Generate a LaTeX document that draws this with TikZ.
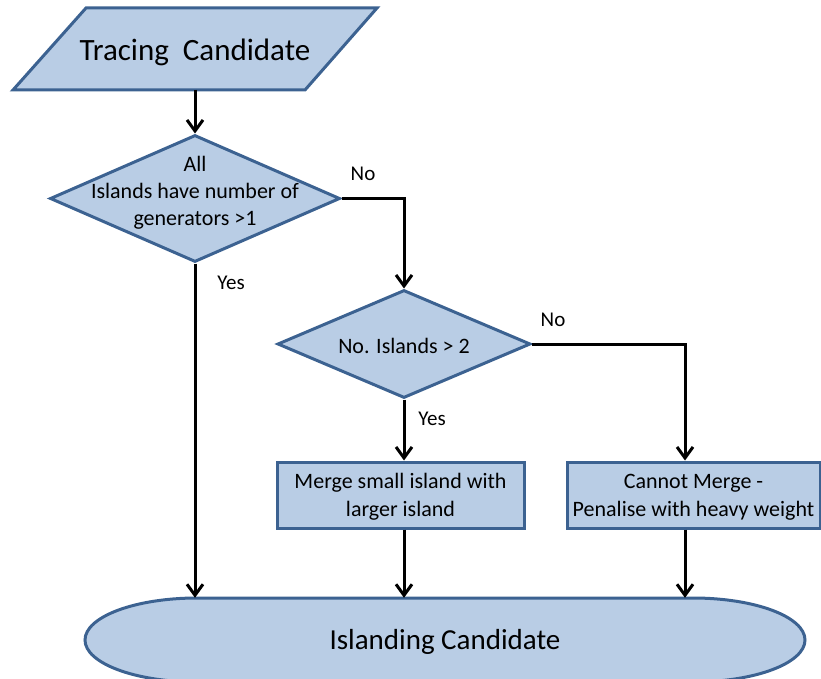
\documentclass[tikz,border=0pt]{standalone}
\usepackage{fontspec}
\setmainfont{Carlito}
\usetikzlibrary{shapes.geometric,arrows.meta}
\definecolor{shfill}{RGB}{185,205,229}
\definecolor{shline}{RGB}{60,98,145}
\begin{document}
\begin{tikzpicture}[x=1pt,y=-1pt,
  shp/.style={fill=shfill,draw=shline,line width=3pt},
  flow/.style={line width=3pt,-{Straight Barb[length=11pt,width=16pt]}},
  txt/.style={font=\fontsize{22}{27}\selectfont, align=center, inner sep=0pt},
  lbl/.style={font=\fontsize{21}{25}\selectfont, inner sep=0pt},
  dec/.style={shp, diamond, inner sep=0pt},
  box/.style={shp, rectangle, inner sep=0pt, align=center, font=\fontsize{22}{28}\selectfont}
]
\clip (0,0) rectangle (821,679);

% start parallelogram
\draw[shp] (86,8) -- (377,8) -- (305,90) -- (13,90) -- cycle;
\node[font=\fontsize{31}{37}\selectfont, inner sep=0pt] (startt) at (195,52) {Tracing\ \ Candidate};
\coordinate (start) at (195,90);

% decisions
\node[dec, minimum width=290pt, minimum height=127pt] (d1) at (195,198.5) {};
\node[txt] (d1t) at (195,192.5) {All\\Islands have number of\\generators >1};
\node[dec, minimum width=253pt, minimum height=108pt] (d2) at (404,344) {};
\node[txt] (d2t) at (404,346) {No. Islands > 2};

% process boxes
\node[shp, rectangle, minimum width=247pt, minimum height=66pt] (b1) at (400.5,495) {};
\node[txt, font=\fontsize{22}{28}\selectfont] (b1t) at (400.5,497) {Merge small island with\\larger island};
\node[shp, rectangle, minimum width=253pt, minimum height=66pt] (b2) at (693.5,495) {};
\node[txt, font=\fontsize{22}{28}\selectfont] (b2t) at (693.5,497) {Cannot Merge -\\Penalise with heavy weight};

% terminator
\draw[shp] (197,598) -- (693,598)
  .. controls (754.9,598) and (805,616.8) .. (805,640)
  .. controls (805,663.2) and (754.9,682) .. (693,682)
  -- (197,682)
  .. controls (135.1,682) and (85,663.2) .. (85,640)
  .. controls (85,616.8) and (135.1,598) .. cycle;
\node[font=\fontsize{29}{34}\selectfont, inner sep=0pt, minimum width=720pt, minimum height=84pt] (term) at (445,640) {};
\node[font=\fontsize{29}{34}\selectfont, inner sep=0pt] (termt) at (445,642) {Islanding Candidate};

\coordinate (k2) at (685,0);

% connectors
\draw[flow] (start) -- (d1.north);
\draw[flow] (d1.east) -| (d2.north);
\draw[flow] (d2.east) -| (k2 |- b2.north);
\draw[flow] (d2.south) -- (d2.south |- b1.north);
\draw[flow] (d1.south) -- (d1.south |- term.north);
\draw[flow] (d2.south |- b1.south) -- (d2.south |- term.north);
\draw[flow] (k2 |- b2.south) -- (k2 |- term.north);

% labels
\node[lbl] (n1) at (363,174) {No};
\node[lbl] (y1) at (231,283) {Yes};
\node[lbl] (n2) at (553,320) {No};
\node[lbl] (y2) at (432,419) {Yes};
\end{tikzpicture}
\end{document}
